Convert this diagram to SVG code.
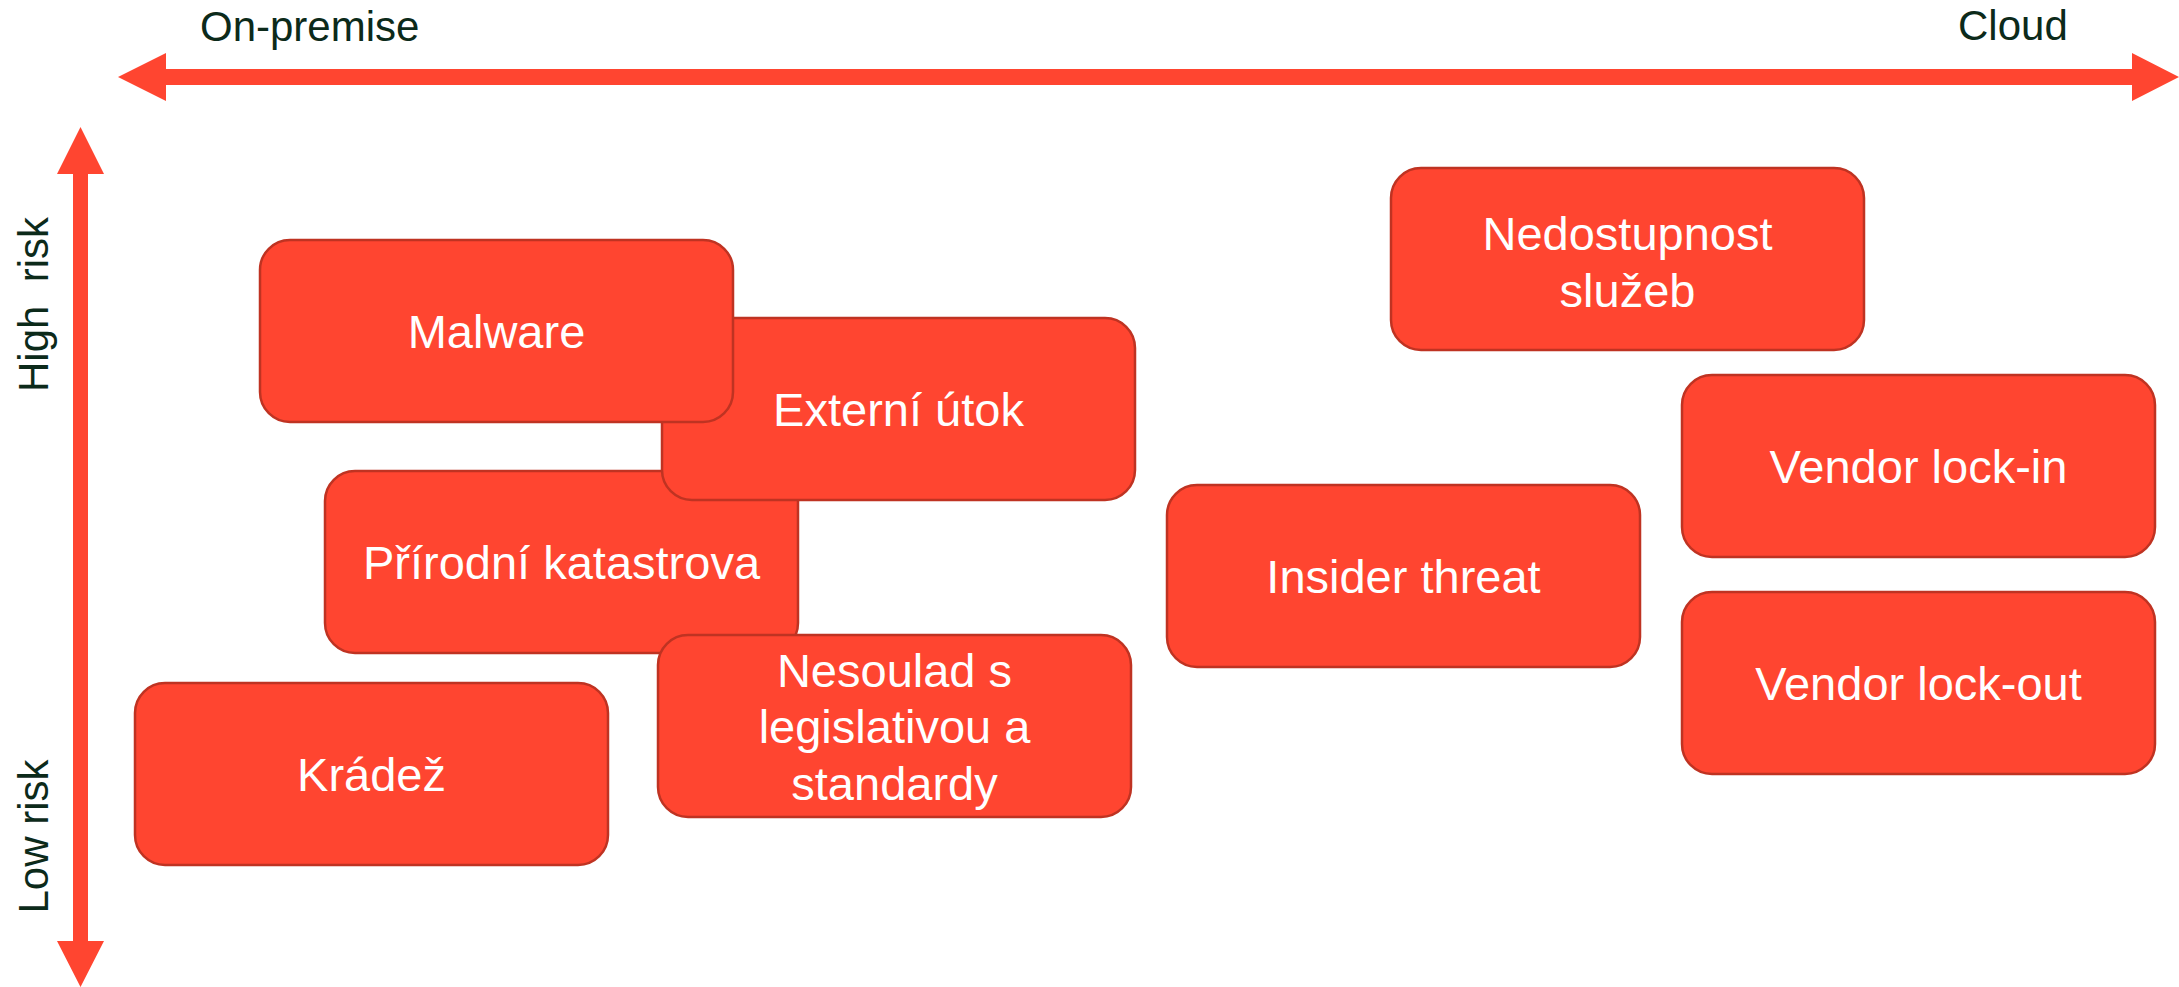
<svg xmlns="http://www.w3.org/2000/svg" width="2179" height="987" viewBox="0 0 2179 987">
<style>
.box{fill:#ff4530;stroke:#bf3322;stroke-width:2.5}
.lbl{font-family:"Liberation Sans",Arial,sans-serif;font-size:47px;fill:#ffffff;text-anchor:middle}
.axis{font-family:"Liberation Sans",Arial,sans-serif;font-size:42px;fill:#0c2a1a}
.arrow{fill:#ff4530}
</style>
<rect width="2179" height="987" fill="#ffffff"/>
<g id="connectors">
<polygon class="arrow" points="118,77 166,53 166,69 2132,69 2132,53 2179,77 2132,101 2132,85 166,85 166,101"/>
<polygon class="arrow" points="80.5,127 104,174 88,174 88,941 104,941 80.5,987 57,941 73,941 73,174 57,174"/>
</g>
<g id="axis-labels">
<text class="axis" x="200" y="41">On-premise</text>
<text class="axis" x="1958" y="40">Cloud</text>
<text class="axis" xml:space="preserve" text-anchor="middle" transform="translate(48,304.5) rotate(-90)">High  risk</text>
<text class="axis" text-anchor="middle" transform="translate(48,836.5) rotate(-90)">Low risk</text>
</g>
<g id="node-prirodni">
<rect class="box" x="325" y="471" width="473" height="182" rx="30"/>
<text class="lbl" x="561.5" y="579">Přírodní katastrova</text>
</g>
<g id="node-nesoulad">
<rect class="box" x="658" y="635" width="473" height="182" rx="30"/>
<text class="lbl" x="894.5" y="687">Nesoulad s</text>
<text class="lbl" x="894.5" y="743">legislativou a</text>
<text class="lbl" x="894.5" y="800">standardy</text>
</g>
<g id="node-kradez">
<rect class="box" x="135" y="683" width="473" height="182" rx="30"/>
<text class="lbl" x="371.5" y="791">Krádež</text>
</g>
<g id="node-externi">
<rect class="box" x="662" y="318" width="473" height="182" rx="30"/>
<text class="lbl" x="898.5" y="426">Externí útok</text>
</g>
<g id="node-malware">
<rect class="box" x="260" y="240" width="473" height="182" rx="30"/>
<text class="lbl" x="496.5" y="348">Malware</text>
</g>
<g id="node-insider">
<rect class="box" x="1167" y="485" width="473" height="182" rx="30"/>
<text class="lbl" x="1403.5" y="593">Insider threat</text>
</g>
<g id="node-nedostupnost">
<rect class="box" x="1391" y="168" width="473" height="182" rx="30"/>
<text class="lbl" x="1627.5" y="250">Nedostupnost</text>
<text class="lbl" x="1627.5" y="307">služeb</text>
</g>
<g id="node-lockin">
<rect class="box" x="1682" y="375" width="473" height="182" rx="30"/>
<text class="lbl" x="1918.5" y="483">Vendor lock-in</text>
</g>
<g id="node-lockout">
<rect class="box" x="1682" y="592" width="473" height="182" rx="30"/>
<text class="lbl" x="1918.5" y="700">Vendor lock-out</text>
</g>
</svg>
